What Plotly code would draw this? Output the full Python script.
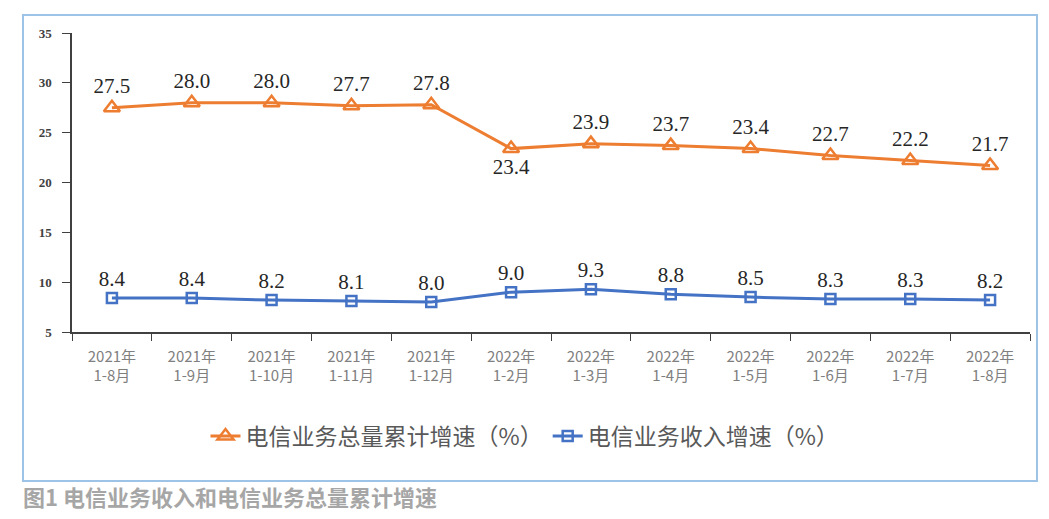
import plotly.graph_objects as go

# 月份类别
categories = ["2021年<br>1-8月", "2021年<br>1-9月", "2021年<br>1-10月", "2021年<br>1-11月",
              "2021年<br>1-12月", "2022年<br>1-2月", "2022年<br>1-3月", "2022年<br>1-4月",
              "2022年<br>1-5月", "2022年<br>1-6月", "2022年<br>1-7月", "2022年<br>1-8月"]

# 电信业务总量累计增速（%）
volume_growth = [27.5, 28.0, 28.0, 27.7, 27.8, 23.4, 23.9, 23.7, 23.4, 22.7, 22.2, 21.7]
# 电信业务收入增速（%）
revenue_growth = [8.4, 8.4, 8.2, 8.1, 8.0, 9.0, 9.3, 8.8, 8.5, 8.3, 8.3, 8.2]

y_ticks = [5, 10, 15, 20, 25, 30, 35]

# 页面有 8px 的 body 边距，图的尺寸减掉它
OFF = 8
W, H = 1049 - 2 * OFF, 519 - 2 * OFF
L, T = 72 - OFF, 33 - OFF
R = W - (1030 - OFF)
B = H - (332 - OFF)
pw, ph = W - L - R, H - T - B


def px_x(x):
    return (x - OFF - L) / pw


def px_y(y):
    return (H - B - (y - OFF)) / ph


orange = "#ED7D31"
blue = "#4472C4"
serif = "Liberation Serif, Times New Roman, serif"
label_font = dict(family=serif, size=21, color="#262626")

vol_pos = ["top center"] * len(volume_growth)
vol_pos[5] = "bottom center"

fig = go.Figure()

fig.add_trace(go.Scatter(
    x=categories, y=volume_growth, name="电信业务总量累计增速（%）",
    mode="lines+markers+text",
    line=dict(color=orange, width=3),
    marker=dict(symbol="triangle-up-open", size=14, color=orange, line=dict(width=2.5, color=orange)),
    text=[f"{v:.1f}" for v in volume_growth], textposition=vol_pos,
    textfont=label_font, cliponaxis=False,
))

fig.add_trace(go.Scatter(
    x=categories, y=revenue_growth, name="电信业务收入增速（%）",
    mode="lines+markers+text",
    line=dict(color=blue, width=3),
    marker=dict(symbol="square-open", size=10, color=blue, line=dict(width=2.5, color=blue)),
    text=[f"{v:.1f}" for v in revenue_growth], textposition="top center",
    textfont=label_font, cliponaxis=False,
))

fig.update_layout(
    width=W, height=H,
    margin=dict(l=L, r=R, t=T, b=B, autoexpand=False),
    plot_bgcolor="white", paper_bgcolor="white",
    font=dict(family="Noto Sans CJK SC, sans-serif", color="#595959"),
    legend=dict(orientation="h", x=px_x(525), xanchor="center", y=px_y(436), yanchor="middle",
                font=dict(size=23, color="#595959"), itemwidth=30),
    showlegend=True,
)

fig.update_xaxes(
    range=[-0.5, len(categories) - 0.5],
    showline=True, linecolor="#404040", linewidth=1.5,
    ticks="outside", tickcolor="#404040", ticklen=7, tickson="boundaries",
    tickfont=dict(size=15, color="#7F7F7F"), ticklabelstandoff=10,
    showgrid=False, automargin=False,
)

fig.update_yaxes(
    range=[5, 35], tickvals=y_ticks, ticktext=[str(v) for v in y_ticks],
    showline=True, linecolor="#404040", linewidth=1.5,
    ticks="outside", tickcolor="#404040", ticklen=8, ticklabelstandoff=8,
    tickfont=dict(family=serif, size=13, color="#404040", weight="bold"),
    showgrid=False, zeroline=False, automargin=False,
)

# 外框
fig.add_shape(type="rect", xref="paper", yref="paper",
              x0=px_x(23), x1=px_x(1037), y0=px_y(481), y1=px_y(15),
              line=dict(color="#9DC3E6", width=2), layer="below")

# 图题
fig.add_annotation(xref="paper", yref="paper", x=px_x(21), y=px_y(496),
                   xanchor="left", yanchor="middle", showarrow=False,
                   text="<b>图1 电信业务收入和电信业务总量累计增速</b>",
                   font=dict(size=22, color="#A6A6A6", family="Noto Sans CJK SC, sans-serif"))

fig.write_html("out.html")
